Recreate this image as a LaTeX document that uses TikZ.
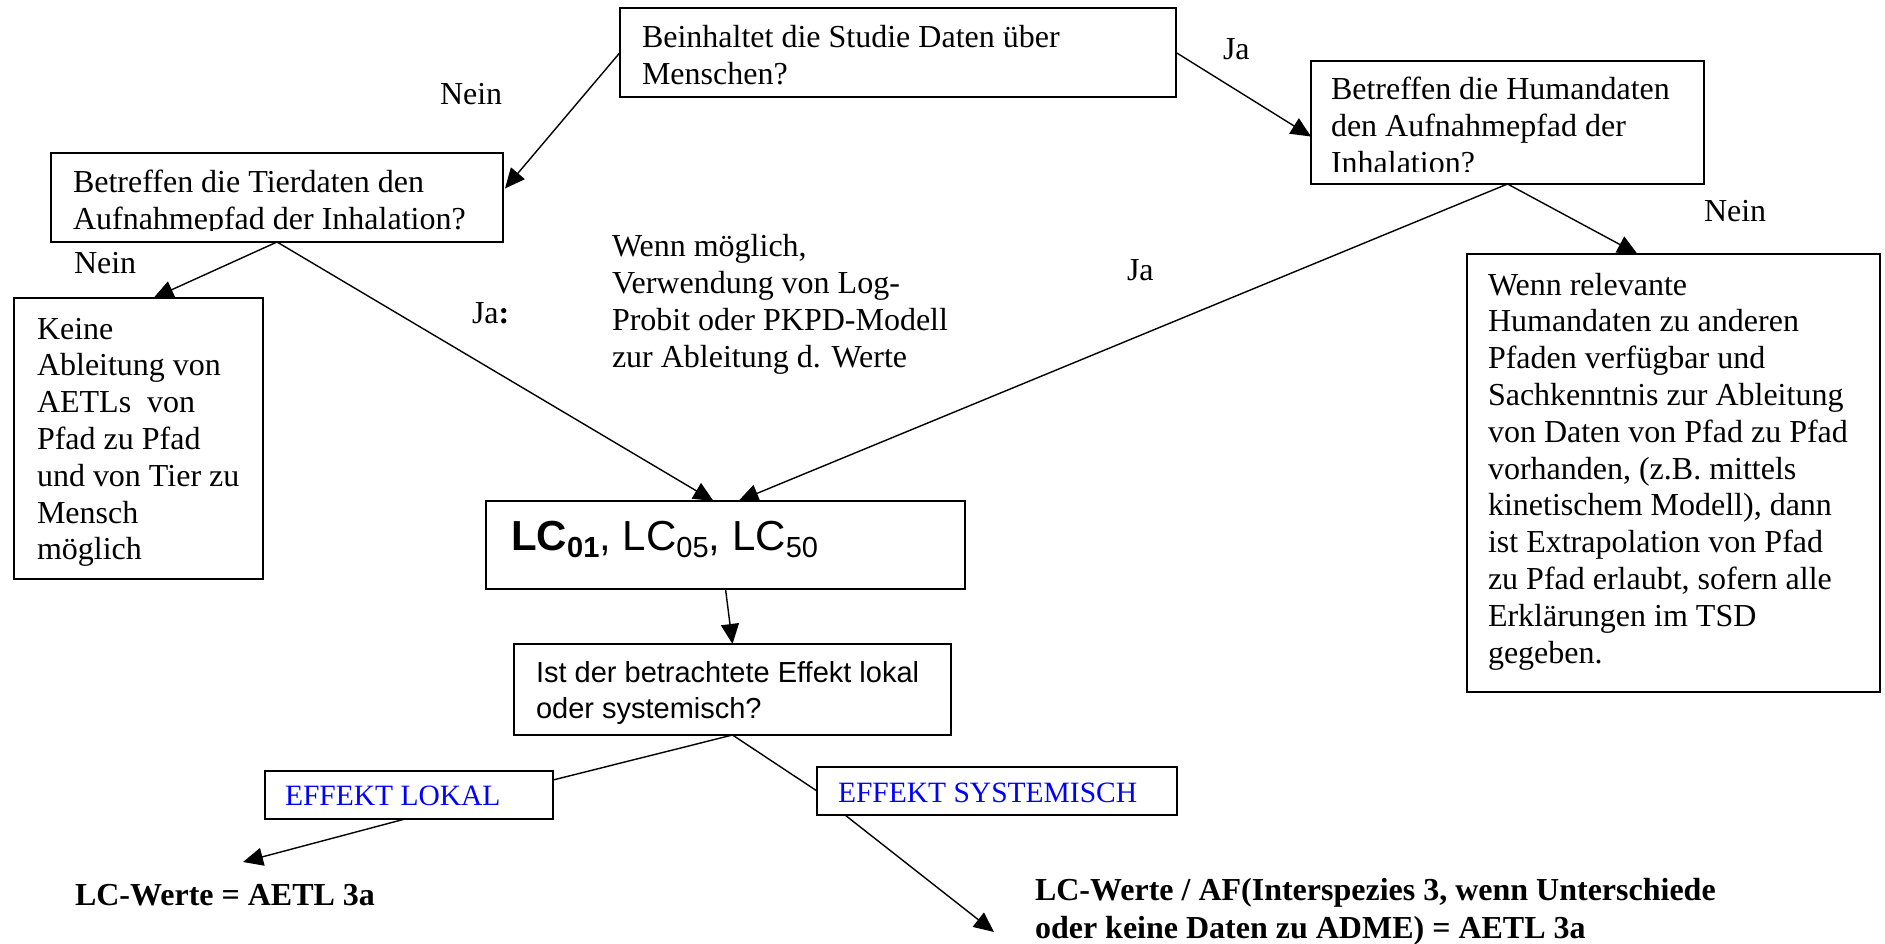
\documentclass[tikz,border=0pt]{standalone}
\usepackage{fontspec}
\setmainfont{Liberation Serif}
\newfontfamily\arialfont{Liberation Sans}
\usetikzlibrary{arrows.meta,calc}
\newcommand\mlines[1]{\begin{tabular}[t]{@{}l@{}}#1\end{tabular}}
\begin{document}
\begin{tikzpicture}[x=1pt,y=-1pt,
  box/.style={draw, line width=1.6pt, rectangle, inner sep=0pt, outer sep=0pt, anchor=north west},
  conn/.style={line width=1.4pt},
  arr/.style={line width=1.4pt, -{Triangle[length=20pt,width=18pt]}},
  tx/.style={anchor=base west, inner sep=0pt, outer sep=0pt, font=\fontsize{32}{36.8}\selectfont},
  sftx/.style={anchor=base west, inner sep=0pt, outer sep=0pt, font=\arialfont\fontsize{29}{36}\selectfont},
  bluetx/.style={anchor=base west, inner sep=0pt, outer sep=0pt, text=blue, font=\fontsize{29.5}{33}\selectfont},
  boldtx/.style={anchor=base west, inner sep=0pt, outer sep=0pt, font=\bfseries\fontsize{32}{38}\selectfont}]
\useasboundingbox[fill=white] (0,0) rectangle (1885,944);

% boxes
\node[box, minimum width=556pt, minimum height=89pt] (bein) at (620,8) {};
\node[box, minimum width=452pt, minimum height=89pt] (tier) at (51,153) {};
\node[box, minimum width=393pt, minimum height=123pt] (human) at (1311,61) {};
\node[box, minimum width=249pt, minimum height=281pt] (keine) at (14,298) {};
\node[box, minimum width=479pt, minimum height=88pt] (lc) at (486,501) {};
\node[box, minimum width=437pt, minimum height=91pt] (ist) at (514,644) {};
\node[box, minimum width=413pt, minimum height=438pt] (rel) at (1467,254) {};
\node[box, minimum width=288pt, minimum height=48pt] (lokal) at (265,771) {};
\node[box, minimum width=360pt, minimum height=48pt] (syst) at (817,767) {};

% box texts
\node[tx] (beint) at (642,48) {\mlines{Beinhaltet die Studie Daten über\\Menschen?}};
\begin{scope}
  \clip (51,153) rectangle (503,231);
  \node[tx] (tiert) at (73,193) {\mlines{Betreffen die Tierdaten den\\Aufnahmepfad der Inhalation?}};
\end{scope}
\begin{scope}
  \clip (1311,61) rectangle (1704,172);
  \node[tx] (humant) at (1331,100) {\mlines{Betreffen die Humandaten\\den Aufnahmepfad der\\Inhalation?}};
\end{scope}
\node[tx] (keinet) at (37,339) {\mlines{Keine\\Ableitung von\\AETLs~~von\\Pfad zu Pfad\\und von Tier zu\\Mensch\\möglich}};
\node[tx] (relt) at (1488,295) {\mlines{Wenn relevante\\Humandaten zu anderen\\Pfaden verfügbar und\\Sachkenntnis zur Ableitung\\von Daten von Pfad zu Pfad\\vorhanden, (z.B. mittels\\kinetischem Modell), dann\\ist Extrapolation von Pfad\\zu Pfad erlaubt, sofern alle\\Erklärungen im TSD\\gegeben.}};
\node[anchor=base west, inner sep=0pt, font=\arialfont\fontsize{42}{46}\selectfont] (lct) at (511,550)
  {\textbf{LC\raisebox{-7pt}{\fontsize{29}{29}\selectfont 01}}, LC\raisebox{-7pt}{\fontsize{29}{29}\selectfont 05}, LC\raisebox{-7pt}{\fontsize{29}{29}\selectfont 50}};
\node[sftx] (istt) at (536,682) {\mlines{Ist der betrachtete Effekt lokal\\oder systemisch?}};
\node[bluetx] (lokalt) at (285,805) {EFFEKT LOKAL};
\node[bluetx] (systt) at (838,802) {EFFEKT SYSTEMISCH};

% free texts
\node[tx] (wenn) at (612,257) {\mlines{Wenn möglich,\\Verwendung von Log-\\Probit oder PKPD-Modell\\zur Ableitung d. Werte}};
\node[tx] (nein1) at (440,105) {Nein};
\node[tx] (nein2) at (74,273) {Nein};
\node[tx] (nein3) at (1704,222) {Nein};
\node[tx] (ja1) at (1223,60) {Ja};
\node[tx] (ja2) at (1127,280) {Ja};
\node[tx] (ja3) at (472,323) {Ja\textbf{:}};
\node[boldtx] (res1) at (75,905) {LC-Werte = AETL 3a};
\node[boldtx] (res2) at (1035,900) {\mlines{LC-Werte / AF(Interspezies 3, wenn Unterschiede\\oder keine Daten zu ADME) = AETL 3a}};

\coordinate (t1) at (243,862);
\coordinate (t2) at (994,932);

% connectors
\draw[arr] (bein.west) -- ($(tier.east)+(2,-9)$);
\draw[arr] (bein.east) -- ($(human.west)+(0,14)$);
\draw[arr] (tier.south) -- ($(keine.north)+(15,0)$);
\draw[arr] (tier.south) -- ($(lc.north)+(-12,0)$);
\draw[arr] (human.south) -- ($(lc.north)+(13,0)$);
\draw[arr] (human.south) -- ($(rel.north)+(-36,0)$);
\draw[arr] (lc.south) -- (ist.north);
\draw[conn] (ist.south) -- ($(lokal.east)+(0,-15)$);
\draw[conn] (ist.south) -- (syst.west);
\draw[arr] ($(lokal.south)+(-4,0)$) -- (t1);
\draw[arr] ($(syst.south west)+(28,0)$) -- (t2);
\end{tikzpicture}
\end{document}
